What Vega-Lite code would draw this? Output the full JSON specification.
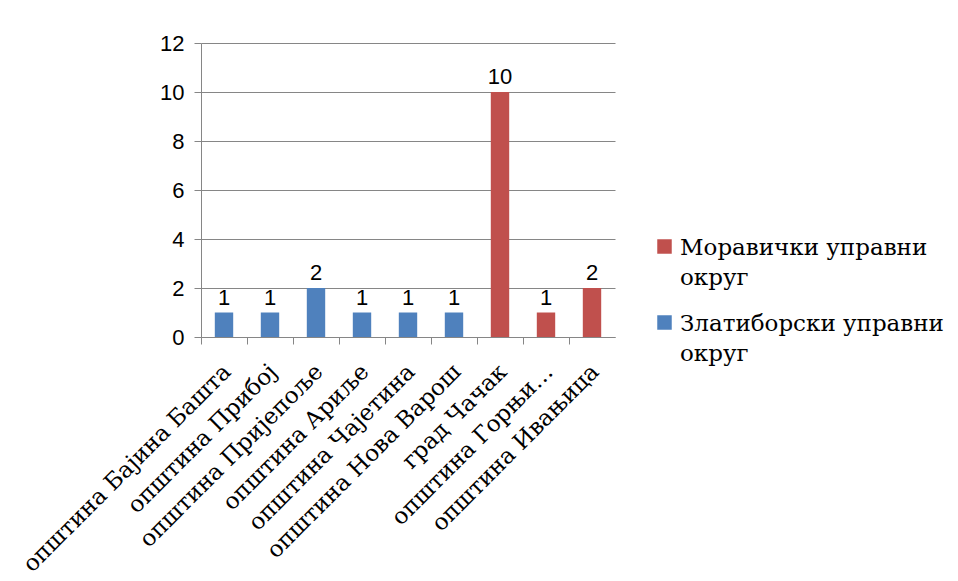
{
  "$schema": "https://vega.github.io/schema/vega-lite/v6.json",
  "autosize": {"type": "none"},
  "width": 414,
  "height": 294,
  "padding": {"left": 201, "top": 43, "right": 343, "bottom": 244},
  "background": "white",
  "data": {
    "values": [
      {"opstina": "општина Бајина Башта", "broj": 1, "okrug": "Златиборски управни округ"},
      {"opstina": "општина Прибој", "broj": 1, "okrug": "Златиборски управни округ"},
      {"opstina": "општина Пријепоље", "broj": 2, "okrug": "Златиборски управни округ"},
      {"opstina": "општина Ариље", "broj": 1, "okrug": "Златиборски управни округ"},
      {"opstina": "општина Чајетина", "broj": 1, "okrug": "Златиборски управни округ"},
      {"opstina": "општина Нова Варош", "broj": 1, "okrug": "Златиборски управни округ"},
      {"opstina": "град Чачак", "broj": 10, "okrug": "Моравички управни округ"},
      {"opstina": "општина Горњи Милановац", "broj": 1, "okrug": "Моравички управни округ"},
      {"opstina": "општина Ивањица", "broj": 2, "okrug": "Моравички управни округ"}
    ]
  },
  "encoding": {
    "x": {
      "field": "opstina",
      "type": "nominal",
      "sort": null,
      "scale": {"paddingInner": 0.6, "paddingOuter": 0.3},
      "axis": {
        "title": null,
        "tickOffset": -23,
        "labelAngle": -45,
        "labelAlign": "right",
        "labelBaseline": "top",
        "labelFont": "DejaVu Serif",
        "labelFontSize": 23,
        "labelColor": "black",
        "labelPadding": 16,
        "labelOffset": 18,
        "labelLimit": 400,
        "labelExpr": "datum.label == 'општина Горњи Милановац' ? 'општина Горњи…' : datum.label",
        "tickSize": 7,
        "tickColor": "#868686",
        "domainColor": "#868686",
        "grid": false
      }
    },
    "y": {
      "field": "broj",
      "type": "quantitative",
      "scale": {"domain": [0, 12]},
      "axis": {
        "title": null,
        "values": [0, 2, 4, 6, 8, 10, 12],
        "labelFont": "Liberation Sans",
        "labelFontSize": 22,
        "labelColor": "black",
        "labelPadding": 10,
        "tickSize": 7,
        "tickColor": "#868686",
        "domainColor": "#868686",
        "gridColor": "#868686",
        "gridWidth": 1
      }
    }
  },
  "layer": [
    {
      "mark": {"type": "bar"},
      "encoding": {
        "color": {
          "field": "okrug",
          "type": "nominal",
          "scale": {
            "domain": ["Моравички управни округ", "Златиборски управни округ"],
            "range": ["#C0504D", "#4F81BD"]
          },
          "legend": {
            "title": null,
            "orient": "none",
            "legendX": 450,
            "legendY": 192,
            "symbolType": "square",
            "symbolSize": 210,
            "symbolStrokeWidth": 0,
            "symbolOffset": 2,
            "labelFont": "DejaVu Serif",
            "labelFontSize": 23,
            "labelColor": "black",
            "labelLimit": 400,
            "labelBaseline": "top",
            "labelOffset": 4,
            "rowPadding": 21,
            "labelExpr": "datum.label == 'Моравички управни округ' ? ['Моравички управни', 'округ'] : ['Златиборски управни', 'округ']",
            "encode": {
              "labels": {
                "update": {
                  "dy": {"value": -10},
                  "lineHeight": {"value": 30}
                }
              }
            }
          }
        }
      }
    },
    {
      "mark": {"type": "text", "baseline": "bottom", "dy": -3, "font": "Liberation Sans", "fontSize": 22, "color": "black"},
      "encoding": {"text": {"field": "broj", "type": "quantitative"}}
    }
  ],
  "config": {
    "view": {"stroke": null}
  }
}
